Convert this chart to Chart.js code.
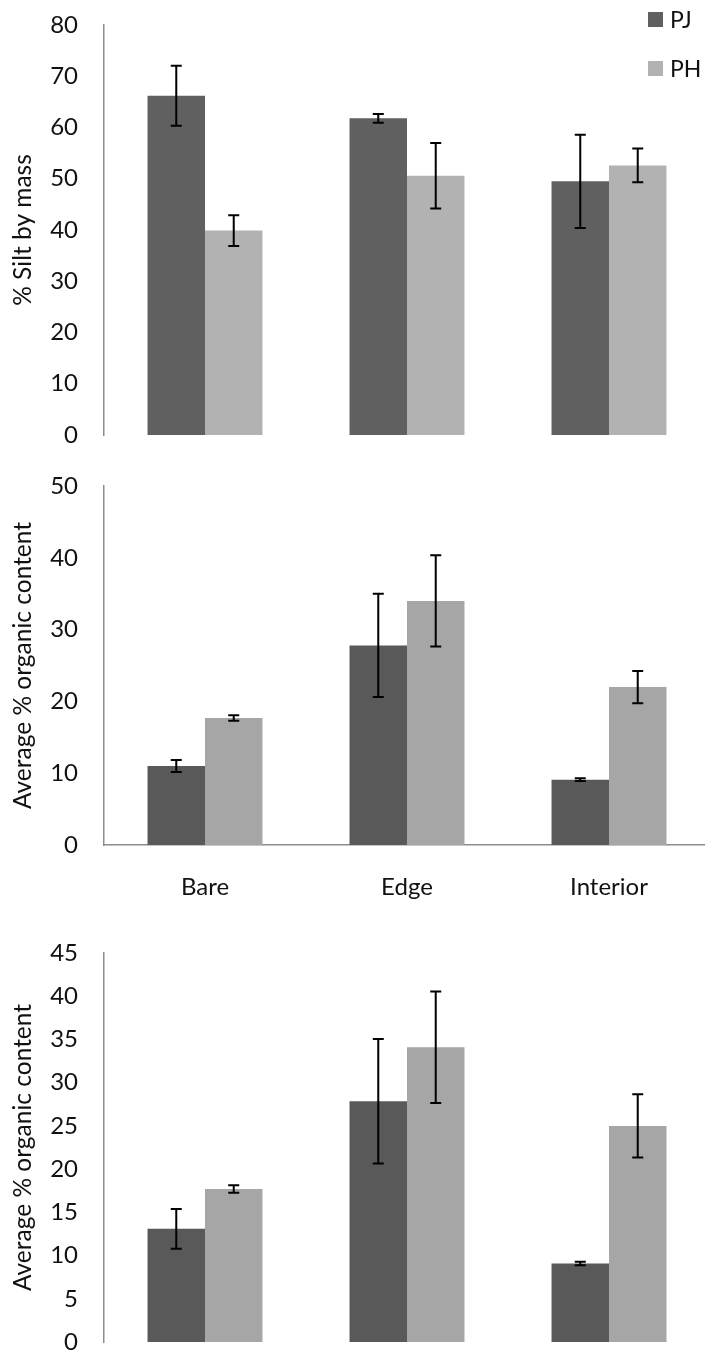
<!DOCTYPE html>
<html>
<head>
<meta charset="utf-8">
<script src="https://cdn.jsdelivr.net/npm/chart.js@4/dist/chart.umd.min.js"></script>
<style>
  body { margin: 0; background: #fff; overflow: hidden; width: 705px; height: 1351px; position: relative; font-family: Lato, sans-serif; }
  .panel { position: absolute; left: 0; width: 710px; }
  .legend { position: absolute; left: 648px; font-size: 23px; color: #111; display: flex; align-items: center; }
  .legend span.sw { display: inline-block; width: 15px; height: 15px; margin-right: 7px; }
</style>
</head>
<body>
<div class="panel" style="top:0; height:450px;"><canvas id="silt"></canvas></div>
<div class="panel" style="top:450px; height:470px;"><canvas id="organic"></canvas></div>
<div class="panel" style="top:920px; height:450px;"><canvas id="organic2"></canvas></div>
<div class="legend" style="top:5px;"><span class="sw" style="background:#606060"></span>PJ</div>
<div class="legend" style="top:54px;"><span class="sw" style="background:#b2b2b2"></span>PH</div>
<script>
const categories = ['Bare', 'Edge', 'Interior'];

// % silt by mass
const siltPJ = [66.2, 61.8, 49.5];
const siltPJErr = [5.85, 0.85, 9.1];
const siltPH = [39.9, 50.6, 52.6];
const siltPHErr = [3.0, 6.4, 3.3];

// average % organic content (middle)
const orgPJ = [11.0, 27.8, 9.1];
const orgPJErr = [0.85, 7.2, 0.18];
const orgPH = [17.7, 34.0, 22.0];
const orgPHErr = [0.38, 6.35, 2.25];

// average % organic content (bottom)
const org2PJ = [13.1, 27.85, 9.08];
const org2PJErr = [2.3, 7.2, 0.2];
const org2PH = [17.7, 34.1, 25.0];
const org2PHErr = [0.43, 6.45, 3.65];

const siltTicks = { max: 80, step: 10 };
const orgTicks = { max: 50, step: 10 };
const org2Ticks = { max: 45, step: 5 };

const errorBars = {
  id: 'errorBars',
  afterDatasetsDraw(chart) {
    const ctx = chart.ctx;
    const y = chart.scales.y;
    ctx.save();
    ctx.strokeStyle = '#000';
    ctx.lineWidth = 2;
    chart.data.datasets.forEach((ds, i) => {
      const meta = chart.getDatasetMeta(i);
      meta.data.forEach((bar, j) => {
        const v = ds.data[j], e = ds.errors[j];
        const top = y.getPixelForValue(v + e);
        const bot = y.getPixelForValue(v - e);
        const x = bar.x;
        ctx.beginPath();
        ctx.moveTo(x, top); ctx.lineTo(x, bot);
        ctx.moveTo(x - 5.5, top); ctx.lineTo(x + 5.5, top);
        ctx.moveTo(x - 5.5, bot); ctx.lineTo(x + 5.5, bot);
        ctx.stroke();
      });
    });
    ctx.restore();
  }
};

function makeChart(id, pj, pjErr, ph, phErr, colors, ticks, title, pad, showX) {
  const xScale = {
    display: showX,
    grid: { display: false, drawTicks: false },
    border: { display: true, color: '#8c8c8c', width: 1.5 },
    ticks: { color: '#111', font: { family: 'Lato', size: 24 }, padding: 28 }
  };
  if (showX) xScale.afterFit = s => { s.height = 60; };
  return new Chart(document.getElementById(id), {
    type: 'bar',
    data: {
      labels: categories,
      datasets: [
        { label: 'PJ', data: pj, errors: pjErr, backgroundColor: colors[0] },
        { label: 'PH', data: ph, errors: phErr, backgroundColor: colors[1] }
      ]
    },
    options: {
      responsive: true,
      maintainAspectRatio: false,
      animation: false,
      datasets: { bar: { categoryPercentage: 0.569, barPercentage: 1.0 } },
      layout: { padding: pad },
      plugins: { legend: { display: false }, tooltip: { enabled: false } },
      scales: {
        x: xScale,
        y: {
          min: 0,
          max: ticks.max,
          grid: { display: false, drawTicks: false },
          border: { display: true, color: '#8c8c8c', width: 1.5 },
          ticks: { stepSize: ticks.step, color: '#111', font: { family: 'Lato', size: 24 }, padding: 26 },
          title: { display: true, text: title, color: '#111', font: { family: 'Lato', size: 24.5 }, padding: { top: 8, bottom: 0 } },
          afterFit(s) {
            s.width = 104;
            // tick padding would otherwise push the plot edges inward
            s.paddingTop = 0;
            s.paddingBottom = 0;
          }
        }
      }
    },
    plugins: [errorBars]
  });
}

makeChart('silt', siltPJ, siltPJErr, siltPH, siltPHErr, ['#606060', '#b2b2b2'], siltTicks,
  '% Silt by mass', { top: 25, bottom: 15, left: 0, right: 0 }, false);
makeChart('organic', orgPJ, orgPJErr, orgPH, orgPHErr, ['#595959', '#a6a6a6'], orgTicks,
  'Average % organic content', { top: 36, bottom: 15, left: 0, right: 0 }, true);
makeChart('organic2', org2PJ, org2PJErr, org2PH, org2PHErr, ['#595959', '#a6a6a6'], org2Ticks,
  'Average % organic content', { top: 33, bottom: 28, left: 0, right: 0 }, false);
</script>
</body>
</html>
